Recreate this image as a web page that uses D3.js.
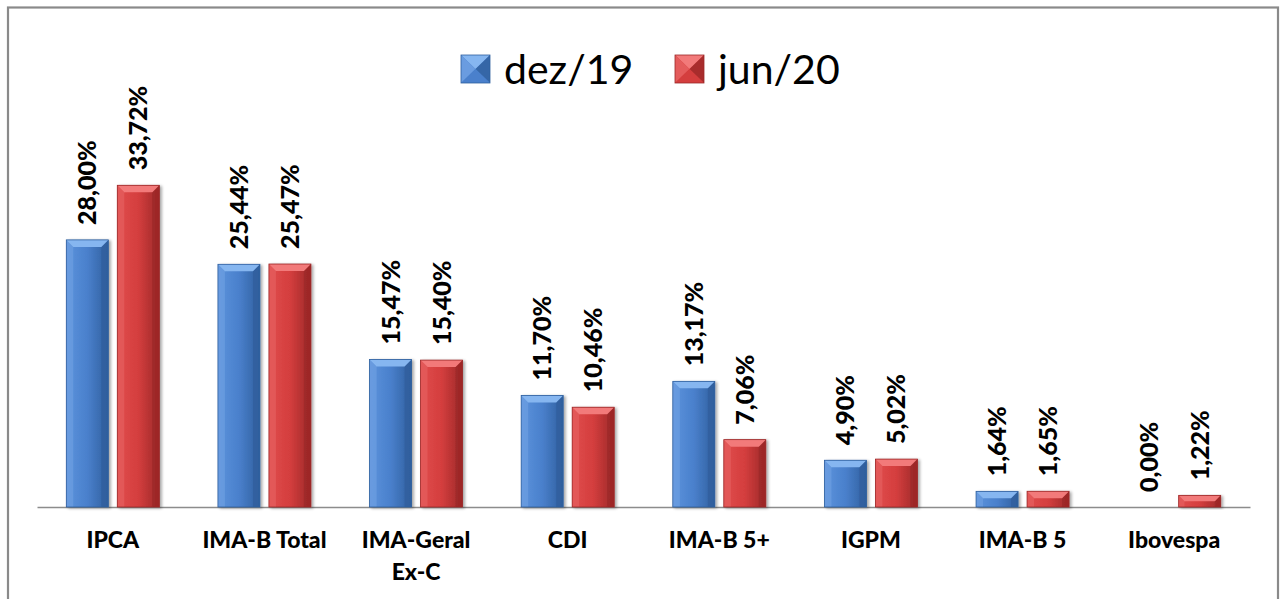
<!DOCTYPE html>
<html><head><meta charset="utf-8">
<script src="https://cdnjs.cloudflare.com/ajax/libs/d3/7.8.5/d3.min.js"></script>
<style>html,body{margin:0;padding:0;background:#fff;overflow:hidden}</style>
</head><body>
<svg id="c" width="1283" height="599"></svg>
<script>
const categories = ["IPCA","IMA-B Total","IMA-Geral Ex-C","CDI","IMA-B 5+","IGPM","IMA-B 5","Ibovespa"];
const categoryLines = [["IPCA"],["IMA-B Total"],["IMA-Geral","Ex-C"],["CDI"],["IMA-B 5+"],["IGPM"],["IMA-B 5"],["Ibovespa"]];
const series = ["dez/19","jun/20"];
const dez19 = [28.00,25.44,15.47,11.70,13.17,4.90,1.64,0.00];
const jun20 = [33.72,25.47,15.40,10.46,7.06,5.02,1.65,1.22];
const valueLabels = {
  "dez/19": ["28,00%","25,44%","15,47%","11,70%","13,17%","4,90%","1,64%","0,00%"],
  "jun/20": ["33,72%","25,47%","15,40%","10,46%","7,06%","5,02%","1,65%","1,22%"]
};
const values = {"dez/19": dez19, "jun/20": jun20};

const svg = d3.select("#c");
const colors = {
  "dez/19": {base:"#4a80cc", light:"#86b6f0", side:"#6a9ce0", dark:"#2f5f9e", mid:"#5b93dc"},
  "jun/20": {base:"#d43e3e", light:"#f27a7a", side:"#e45c5c", dark:"#9c2828", mid:"#e04c4c"}
};
const defs = svg.append("defs");
series.forEach((s,i)=>{
  const g = defs.append("linearGradient").attr("id","g"+i).attr("x1","0").attr("x2","1").attr("y1","0").attr("y2","0");
  g.append("stop").attr("offset","0").attr("stop-color",colors[s].mid);
  g.append("stop").attr("offset","0.5").attr("stop-color",colors[s].base);
  g.append("stop").attr("offset","1").attr("stop-color",colors[s].dark);
});
const sh = defs.append("filter").attr("id","sh").attr("x","-20%").attr("y","-20%").attr("width","140%").attr("height","140%");
sh.append("feGaussianBlur").attr("in","SourceAlpha").attr("stdDeviation","1.5");
sh.append("feOffset").attr("dx","1.5").attr("dy","1");
sh.append("feComponentTransfer").append("feFuncA").attr("type","linear").attr("slope","0.35");
const mg = sh.append("feMerge"); mg.append("feMergeNode"); mg.append("feMergeNode").attr("in","SourceGraphic");

// frame
svg.append("rect").attr("x",8).attr("y",7.5).attr("width",1270).attr("height",640)
  .attr("fill","none").attr("stroke","#8a8a8a").attr("stroke-width",2.2);

const x = d3.scaleBand().domain(categories).range([37,1250]).paddingInner(0).paddingOuter(0);
const step = x.step();
const xs = d3.scaleBand().domain(series).range([step/2-46.5, step/2+46.5]).paddingInner(9/51).paddingOuter(0);
const y = d3.scaleLinear().domain([0,40]).range([507,507-381.6]);

// axis line
const axis = d3.axisBottom(x).tickSize(0).tickFormat("");
const ax = svg.append("g").attr("transform",`translate(0,${y(0)})`).call(axis);
ax.select(".domain").attr("stroke","#8c8c8c").attr("stroke-width",1.6);

const b = 7;
series.forEach((s,si)=>{
  const c = colors[s];
  categories.forEach((cat,ci)=>{
    const v = values[s][ci];
    const x0 = x(cat)+xs(s), x1 = x0+xs.bandwidth();
    const y0 = y(v), y1 = y(0);
    if (y1-y0 > 0.5) {
      const g = svg.append("g").attr("filter","url(#sh)");
      g.append("rect").attr("x",x0).attr("y",y0).attr("width",x1-x0).attr("height",y1-y0).attr("fill",`url(#g${si})`);
      const bb = Math.min(b,(y1-y0)/2);
      g.append("polygon").attr("points",`${x0},${y0} ${x0+bb},${y0+bb} ${x0+bb},${y1} ${x0},${y1}`).attr("fill",c.side).attr("opacity",0.8);
      g.append("polygon").attr("points",`${x1},${y0} ${x1-bb},${y0+bb} ${x1-bb},${y1} ${x1},${y1}`).attr("fill",c.dark).attr("opacity",0.8);
      g.append("polygon").attr("points",`${x0},${y0} ${x1},${y0} ${x1-bb},${y0+bb} ${x0+bb},${y0+bb}`).attr("fill",c.light);
      g.append("rect").attr("x",x0).attr("y",y0).attr("width",x1-x0).attr("height",y1-y0).attr("fill","none").attr("stroke",c.dark).attr("stroke-width",0.8);
    }
    const cx = (x0+x1)/2;
    svg.append("text").attr("transform",`translate(${cx+9},${y0-15}) rotate(-90)`)
      .attr("font-family","Lato").attr("font-weight",900).attr("font-size",25).attr("fill","#000")
      .attr("text-anchor","start").text(valueLabels[s][ci]);
  });
});

// category labels
categories.forEach((cat,ci)=>{
  const t = svg.append("text").attr("x",x(cat)+step/2).attr("y",548)
    .attr("text-anchor","middle").attr("font-family","Lato").attr("font-weight",900).attr("font-size",23).attr("fill","#000");
  categoryLines[ci].forEach((ln,li)=>{
    t.append("tspan").attr("x",x(cat)+step/2).attr("dy",li===0?0:32).text(ln);
  });
});

// legend
const legX = [461, 675];
series.forEach((s,i)=>{
  const c = colors[s];
  const lx = legX[i], ly = 55, w = 29, h = 28;
  const g = svg.append("g");
  g.append("rect").attr("x",lx).attr("y",ly).attr("width",w).attr("height",h).attr("fill",c.base);
  g.append("polygon").attr("points",`${lx},${ly} ${lx+w},${ly} ${lx+w/2},${ly+h/2}`).attr("fill",c.light);
  g.append("polygon").attr("points",`${lx},${ly} ${lx+w/2},${ly+h/2} ${lx},${ly+h}`).attr("fill",c.side);
  g.append("polygon").attr("points",`${lx+w},${ly} ${lx+w/2},${ly+h/2} ${lx+w},${ly+h}`).attr("fill",c.dark).attr("opacity",0.8);
  g.append("polygon").attr("points",`${lx},${ly+h} ${lx+w/2},${ly+h/2} ${lx+w},${ly+h}`).attr("fill",c.base);
  g.append("rect").attr("x",lx).attr("y",ly).attr("width",w).attr("height",h).attr("fill","none").attr("stroke",c.dark).attr("stroke-width",0.8);
  g.append("text").attr("x",lx+w+14).attr("y",84).attr("font-family","Lato").attr("font-size",41).attr("fill","#000").text(s);
});
</script>
</body></html>
